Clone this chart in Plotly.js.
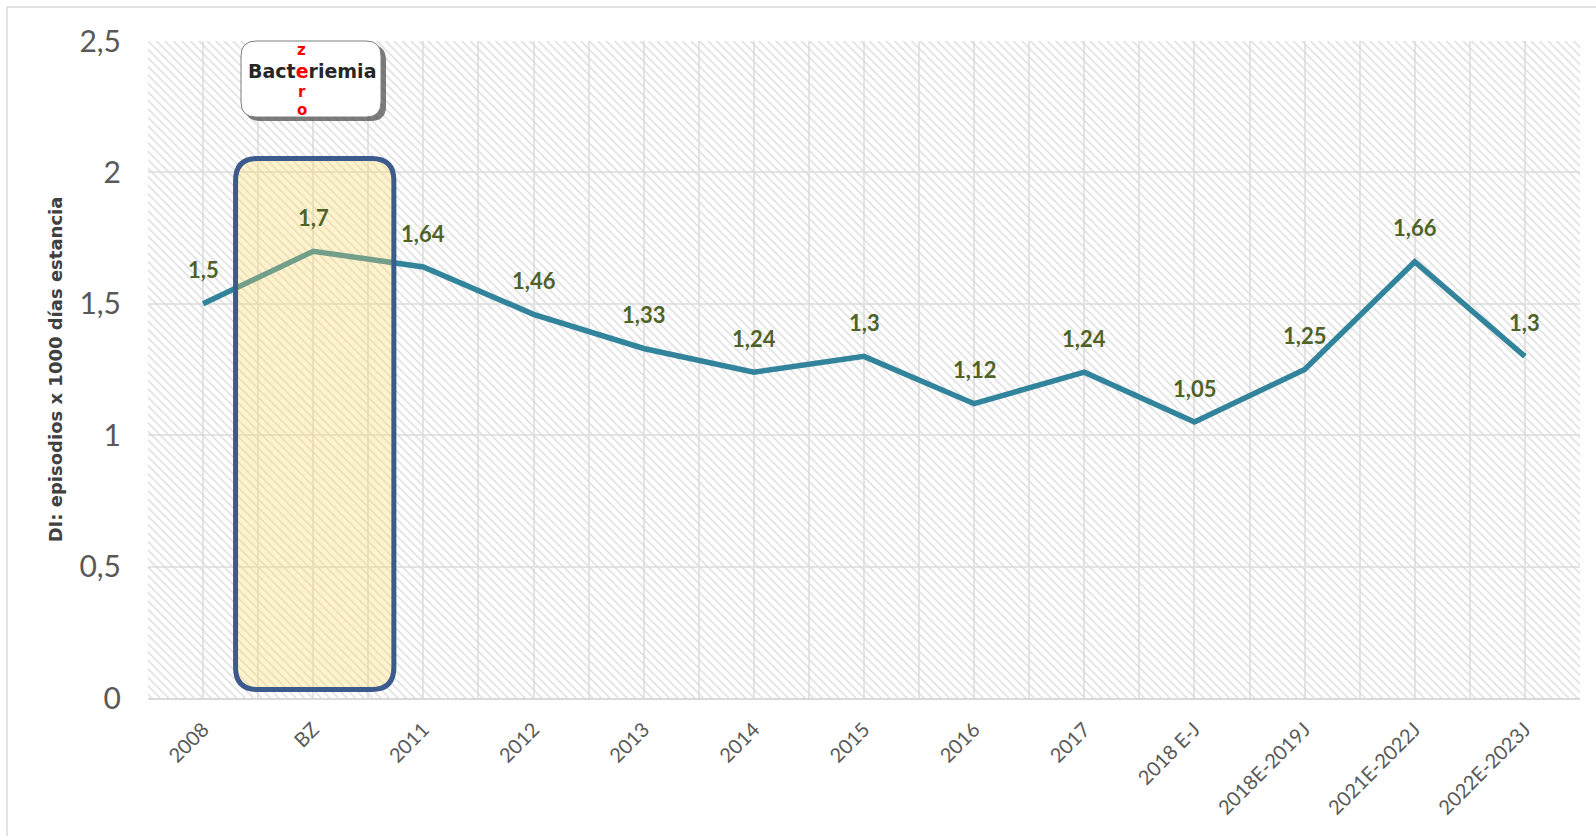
<!DOCTYPE html>
<html>
<head>
<meta charset="utf-8">
<script src="https://cdn.plot.ly/plotly-3.0.1.min.js"></script>
<style>
  html, body { margin: 0; padding: 0; background: #ffffff; }
  #chart { width: 1596px; height: 836px; }
</style>
</head>
<body>
<div id="chart"></div>
<script>
// ---- data ----
const categories = ["2008", "BZ", "2011", "2012", "2013", "2014", "2015", "2016", "2017", "2018 E-J", "2018E-2019J", "2021E-2022J", "2022E-2023J"];
const values = [1.5, 1.7, 1.64, 1.46, 1.33, 1.24, 1.3, 1.12, 1.24, 1.05, 1.25, 1.66, 1.3];
const yTickVals = [0, 0.5, 1, 1.5, 2, 2.5];
const yTitle = "DI: episodios x 1000 días estancia";
const highlightCategory = "BZ";

// ---- layout constants ----
const W = 1596, H = 836;
const M = { l: 148, r: 16, t: 41, b: 138 };
const plotW = W - M.l - M.r, plotH = H - M.t - M.b;
const yMax = 2.5;
const n = categories.length;
const idx = categories.map((_, i) => i);
const px2x = p => (p - M.l) / plotW;          // pixel -> paper x
const px2y = p => 1 - (p - M.t) / plotH;      // pixel -> paper y
const xUnit = n / plotW;                       // data units per pixel (x)
const yUnit = yMax / plotH;                    // data units per pixel (y)

// background hatch (one bar spanning the whole axis range)
const hatch = {
  type: "bar",
  x: [(n - 1) / 2], y: [yMax], width: [n],
  marker: {
    color: "rgba(0,0,0,0)",
    line: { width: 0 },
    pattern: { shape: "\\", fgcolor: "#d9d9d9", bgcolor: "rgba(0,0,0,0)", size: 6, solidity: 0.22 }
  },
  hoverinfo: "skip", showlegend: false
};

const line = {
  type: "scatter", mode: "lines",
  x: idx, y: values,
  line: { color: "#31849b", width: 5.5 },
  hoverinfo: "x+y", showlegend: false
};

const fmt = v => String(v).replace(".", ",");
const labelAnns = values.map((v, i) => ({
  x: i, y: v, xref: "x", yref: "y",
  text: "<b>" + fmt(v) + "</b>",
  showarrow: false, yanchor: "middle", xanchor: "center", yshift: 34,
  font: { family: "Lato, sans-serif", size: 22, color: "#4f6228" }
}));

// rounded highlight box around BZ
const bi = categories.indexOf(highlightCategory);
const bx0 = bi - 0.705, bx1 = bi + 0.732, by0 = 0.032, by1 = 2.053;
const rx = 22 * xUnit, ry = 22 * yUnit;
const boxPath = `M ${bx0 + rx},${by0} L ${bx1 - rx},${by0} Q ${bx1},${by0} ${bx1},${by0 + ry} ` +
  `L ${bx1},${by1 - ry} Q ${bx1},${by1} ${bx1 - rx},${by1} L ${bx0 + rx},${by1} ` +
  `Q ${bx0},${by1} ${bx0},${by1 - ry} L ${bx0},${by0 + ry} Q ${bx0},${by0} ${bx0 + rx},${by0} Z`;

// logo box (paper coords from pixels)
function roundRectPaper(x0p, y0p, x1p, y1p, r) {
  const X = p => px2x(p), Y = p => px2y(p);
  return `M ${X(x0p + r)},${Y(y0p)} L ${X(x1p - r)},${Y(y0p)} Q ${X(x1p)},${Y(y0p)} ${X(x1p)},${Y(y0p + r)} ` +
    `L ${X(x1p)},${Y(y1p - r)} Q ${X(x1p)},${Y(y1p)} ${X(x1p - r)},${Y(y1p)} L ${X(x0p + r)},${Y(y1p)} ` +
    `Q ${X(x0p)},${Y(y1p)} ${X(x0p)},${Y(y1p - r)} L ${X(x0p)},${Y(y0p + r)} Q ${X(x0p)},${Y(y0p)} ${X(x0p + r)},${Y(y0p)} Z`;
}

const logoFont = { family: "DejaVu Sans, sans-serif", size: 19, color: "#262626" };
const redFont = { family: "DejaVu Sans, sans-serif", size: 15, color: "#ff0000" };
const colX = 301.8;
const logoAnns = [
  { text: "<b>Bact<span style='color:#ff0000'>e</span>riemia</b>", x: px2x(312), y: px2y(71), xanchor: "center", font: logoFont },
  { text: "<b>z</b>", x: px2x(colX), y: px2y(50.3), xanchor: "center", font: redFont },
  { text: "<b>r</b>", x: px2x(colX), y: px2y(91.5), xanchor: "center", font: redFont },
  { text: "<b>o</b>", x: px2x(colX), y: px2y(109.5), xanchor: "center", font: redFont }
].map(a => Object.assign({ xref: "paper", yref: "paper", yanchor: "middle", showarrow: false, borderpad: 0 }, a));

const layout = {
  width: W, height: H,
  margin: M,
  paper_bgcolor: "#ffffff",
  plot_bgcolor: "#ffffff",
  separators: ",.",
  showlegend: false,
  barmode: "overlay",
  xaxis: {
    type: "linear",
    range: [-0.5, n - 0.5],
    tickvals: idx, ticktext: categories,
    tickangle: -45,
    ticks: "", ticklabelstandoff: 10,
    tickfont: { family: "Lato, sans-serif", size: 20, color: "#595959" },
    showgrid: true, gridcolor: "#e4e4e4", gridwidth: 1.5,
    minor: { tick0: -0.5, dtick: 0.5, showgrid: true, gridcolor: "#e4e4e4", gridwidth: 1.5, ticks: "" },
    showline: true, linecolor: "#d9d9d9", linewidth: 2,
    zeroline: false, fixedrange: true
  },
  yaxis: {
    range: [0, yMax],
    tickvals: yTickVals,
    ticks: "", ticklabelstandoff: 26,
    tickfont: { family: "Lato, sans-serif", size: 30, color: "#595959" },
    showgrid: true, gridcolor: "#e4e4e4", gridwidth: 1.5,
    zeroline: false, showline: false, fixedrange: true,
    title: { text: "<b>" + yTitle + "</b>", standoff: 12, font: { family: "DejaVu Sans, sans-serif", size: 18, color: "#404040" } }
  },
  shapes: [
    // outer chart border (top & left visible)
    { type: "line", xref: "paper", yref: "paper", x0: px2x(7), x1: px2x(W + 5), y0: px2y(7), y1: px2y(7), line: { color: "#d9d9d9", width: 1.5 } },
    { type: "line", xref: "paper", yref: "paper", x0: px2x(7), x1: px2x(7), y0: px2y(7), y1: px2y(H + 5), line: { color: "#d9d9d9", width: 1.5 } },
    // highlight box
    { type: "path", xref: "x", yref: "y", path: boxPath, layer: "above",
      fillcolor: "rgba(255,217,102,0.32)", line: { color: "#3b5b8c", width: 5 } },
    // logo shadow + box
    { type: "path", xref: "paper", yref: "paper", path: roundRectPaper(245, 45, 386, 121, 15), layer: "above",
      fillcolor: "rgba(70,70,70,0.7)", line: { width: 0 } },
    { type: "path", xref: "paper", yref: "paper", path: roundRectPaper(241, 41, 381, 117, 15), layer: "above",
      fillcolor: "#ffffff", line: { color: "#7f7f7f", width: 1 } }
  ],
  annotations: labelAnns.concat(logoAnns)
};

Plotly.newPlot("chart", [hatch, line], layout, { displayModeBar: false, responsive: false });
</script>
</body>
</html>
